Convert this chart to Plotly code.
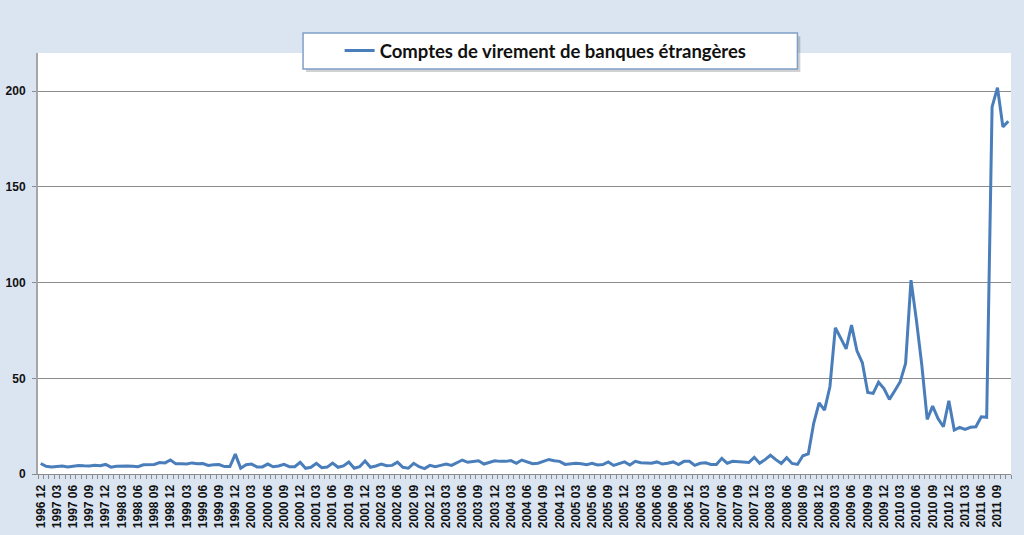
import plotly.graph_objects as go

# monthly categories, Dec 1996 .. Nov 2011
first_year, first_month = 1996, 12
n_months = 180
months = []
y_, m_ = first_year, first_month
for _ in range(n_months):
    months.append(f"{y_} {m_:02d}")
    m_ += 1
    if m_ > 12:
        m_ = 1
        y_ += 1

series_name = "Comptes de virement de banques étrangères"
values = [
    5.5, 4.0, 3.6, 3.8, 4.2, 3.7, 4.0, 4.5, 4.3, 4.2, 4.6, 4.3,
    5.0, 3.6, 4.1, 4.3, 4.2, 4.0, 3.8, 4.8, 4.8, 5.0, 6.0, 5.8,
    7.3, 5.3, 5.3, 5.2, 5.8, 5.4, 5.5, 4.5, 4.8, 4.9, 3.9, 3.9,
    10.4, 3.0, 4.8, 5.2, 3.7, 3.7, 5.2, 3.8, 4.2, 5.0, 3.8, 3.8,
    6.1, 3.0, 3.5, 5.6, 3.3, 3.6, 5.7, 3.5, 4.2, 6.3, 3.0, 3.8,
    6.8, 3.5, 4.2, 5.2, 4.3, 4.5, 6.2, 3.5, 3.0, 5.6, 3.8, 2.8,
    4.5, 3.8, 4.5, 5.2, 4.5, 5.9, 7.3, 6.1, 6.6, 6.9, 5.2, 6.1,
    6.9, 6.6, 6.6, 7.0, 5.6, 7.3, 6.5, 5.4, 5.6, 6.5, 7.6, 6.9,
    6.6, 5.0, 5.2, 5.6, 5.4, 4.9, 5.6, 4.7, 4.9, 6.3, 4.5, 5.2,
    6.3, 4.7, 6.6, 5.9, 5.6, 5.6, 6.3, 5.2, 5.6, 6.3, 4.9, 6.6,
    6.6, 4.5, 5.6, 5.9, 5.0, 5.0, 8.2, 5.6, 6.6, 6.3, 6.1, 6.0,
    8.7, 5.6, 7.5, 9.8, 7.5, 5.5, 8.5, 5.5, 5.0, 9.5, 10.5, 26.5,
    37.2, 33.4, 45.6, 76.4, 71.0, 65.4, 77.8, 64.4, 58.1, 42.6, 42.1, 48.0,
    44.7, 39.0, 43.5, 48.2, 57.8, 101.3, 80.4, 56.9, 28.5, 35.5, 29.0, 24.7,
    38.3, 23.0, 24.4, 23.3, 24.4, 24.7, 29.9, 29.6, 191.8, 201.9, 181.4, 184.3,
]

y_ticks = [0, 50, 100, 150, 200]
tick_labels = [lab if i % 3 == 0 else "" for i, lab in enumerate(months)]

blue = "#4a7ebb"
bg = "#dbe5f1"

fig = go.Figure()
fig.add_trace(go.Scatter(
    x=months, y=values, mode="lines", name=series_name,
    line=dict(color=blue, width=3),
))

# legend frame with a soft shadow
fig.add_shape(type="rect", xref="paper", yref="paper",
              x0=0.2755, x1=0.7835, y0=0.955, y1=1.040,
              fillcolor="rgba(0,0,0,0.18)", line=dict(width=0), layer="below")
fig.add_shape(type="rect", xref="paper", yref="paper",
              x0=0.2724, x1=0.7805, y0=0.962, y1=1.0475,
              fillcolor="white", line=dict(color="#7f9fc9", width=1.5), layer="above")

fig.update_layout(
    width=1024, height=535,
    margin=dict(l=38, r=13, t=53, b=61),
    paper_bgcolor=bg, plot_bgcolor="white",
    showlegend=True,
    legend=dict(x=0.310, y=1.005, xanchor="left", yanchor="middle",
                bgcolor="rgba(0,0,0,0)", borderwidth=0,
                font=dict(family="Lato", size=18.5, color="#111111", weight="bold")),
    xaxis=dict(
        type="category", tickmode="array", tickvals=months, ticktext=tick_labels,
        tickson="boundaries", ticks="outside", ticklen=4, tickcolor="#8c8c8c",
        tickangle=-90, showgrid=False, showline=True, linecolor="#8c8c8c",
        range=[-0.5, n_months - 0.5], automargin=False,
        tickfont=dict(family="Liberation Sans", size=12, color="#111111", weight="bold"),
        ticklabelstandoff=5,
    ),
    yaxis=dict(
        range=[0, 220], tickvals=y_ticks, ticks="outside", ticklen=4, tickcolor="#8c8c8c",
        showgrid=True, gridcolor="#8c8c8c", gridwidth=1, zeroline=False,
        showline=True, linecolor="#a6a6a6", linewidth=2, automargin=False,
        tickfont=dict(family="Liberation Sans", size=12, color="#111111", weight="bold"),
        ticklabelstandoff=4,
    ),
)

fig.write_html("out.html", config={"displayModeBar": False},
               post_script="document.body.style.margin='0';")
